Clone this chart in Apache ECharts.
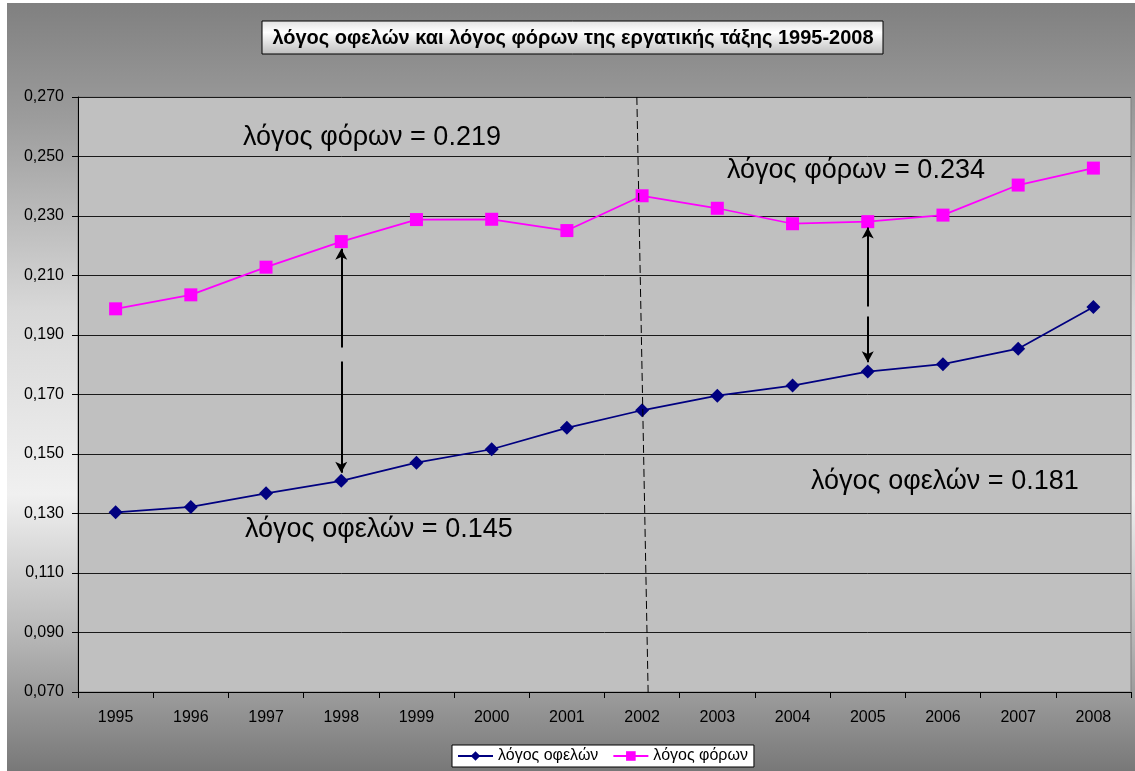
<!DOCTYPE html>
<html>
<head>
<meta charset="utf-8">
<script src="https://cdn.jsdelivr.net/npm/echarts@6/dist/echarts.min.js"></script>
<style>
html,body{margin:0;padding:0;background:#ffffff;width:1135px;height:771px;overflow:hidden;}
#chart{position:absolute;left:7px;top:3px;width:1128px;height:768px;}
</style>
</head>
<body>
<div id="chart"></div>
<script>
// ---- data ----
const years = ['1995','1996','1997','1998','1999','2000','2001','2002','2003','2004','2005','2006','2007','2008'];
const benefitRatio = [0.1304,0.1322,0.1368,0.1410,0.1471,0.1516,0.1588,0.1647,0.1696,0.1730,0.1777,0.1802,0.1854,0.1994];
const taxRatio = [0.1988,0.2035,0.2128,0.2214,0.2288,0.2289,0.2251,0.2368,0.2326,0.2274,0.2281,0.2303,0.2404,0.2461];
const seriesNames = ['λόγος οφελών','λόγος φόρων'];
const titleText = 'λόγος οφελών και λόγος φόρων της εργατικής τάξης 1995-2008';
const notes = ['λόγος φόρων = 0.219','λόγος φόρων = 0.234','λόγος οφελών = 0.181','λόγος οφελών = 0.145'];
const yMin = 0.07, yMax = 0.27, yStep = 0.02;

const FONT = "'Liberation Sans', Arial, sans-serif";
const chart = echarts.init(document.getElementById('chart'), null, {renderer:'canvas'});

function arrowPair(x, y1, y2, headAtEnd){
  return [
    {coord:[x,y1], symbol: headAtEnd ? 'none' : 'arrow'},
    {coord:[x,y2], symbol: headAtEnd ? 'arrow' : 'none'}
  ];
}

const option = {
  animation:false,
  backgroundColor:{type:'linear',x:0,y:0,x2:0,y2:1,colorStops:[
    {offset:0,color:'#808080'},
    {offset:0.15,color:'#9c9c9c'},
    {offset:0.4,color:'#d8d8d8'},
    {offset:0.64,color:'#f0f0f0'},
    {offset:0.82,color:'#b8b8b8'},
    {offset:1,color:'#787878'}
  ]},
  grid:{left:71,right:4,top:94,bottom:79,show:true,backgroundColor:'#c0c0c0',borderColor:'#808080',borderWidth:1,containLabel:false},
  legend:{
    left:445, top:742,
    backgroundColor:'#ffffff', borderColor:'#000000', borderWidth:1,
    padding:[3,6,3,5], itemGap:14, itemWidth:35, itemHeight:12,
    textStyle:{fontFamily:FONT,fontSize:16,color:'#000'},
    data:seriesNames
  },
  xAxis:[{
    type:'category', data:years, boundaryGap:true,
    axisLine:{lineStyle:{color:'#000',width:1}},
    axisTick:{show:true,length:6,interval:0,lineStyle:{color:'#000'}},
    axisLabel:{interval:0,margin:18,fontFamily:FONT,fontSize:16,color:'#000'},
    splitLine:{show:false}
  },{
    type:'value', min:-0.5, max:13.5, show:false
  }],
  yAxis:{
    type:'value', min:yMin, max:yMax, interval:yStep,
    axisLine:{show:true,onZero:false,lineStyle:{color:'#000',width:1}},
    axisTick:{show:true,length:6,lineStyle:{color:'#000'}},
    axisLabel:{margin:14,fontFamily:FONT,fontSize:16,color:'#000',
      formatter:v=>v.toFixed(3).replace('.',',')},
    splitLine:{show:true,lineStyle:{color:'#1a1a1a',width:1}}
  },
  series:[
    {
      name:seriesNames[0], type:'line', data:benefitRatio,
      symbol:'diamond', symbolSize:14,
      lineStyle:{color:'#000080',width:1.75},
      itemStyle:{color:'#000080'}, z:4
    },
    {
      name:seriesNames[1], type:'line', data:taxRatio,
      symbol:'rect', symbolSize:13,
      lineStyle:{color:'#ff00ff',width:1.75},
      itemStyle:{color:'#ff00ff'}, z:4
    },
    {
      name:'annot', type:'line', xAxisIndex:1, data:[], silent:true, z:3,
      markLine:{
        silent:true, animation:false,
        label:{show:false},
        lineStyle:{color:'#000',width:2,type:'solid'},
        symbolSize:[9,11],
        data:[
          [{coord:[6.93,0.27],symbol:'none',lineStyle:{type:[8,4],width:1,color:'#000'}},{coord:[7.08,0.07],symbol:'none'}],
          arrowPair(3,0.2190,0.1858,false),
          arrowPair(3,0.1811,0.1437,true),
          arrowPair(10,0.2261,0.1996,false),
          arrowPair(10,0.1962,0.1808,true)
        ]
      }
    }
  ],
  graphic:[
    {type:'rect', shape:{x:255,y:18,width:621,height:33}, z:10,
      style:{fill:{type:'linear',x:0,y:0,x2:0,y2:1,colorStops:[
        {offset:0,color:'#e0e0e0'},{offset:0.35,color:'#ffffff'},{offset:1,color:'#bdbdbd'}]},
        stroke:'#000',lineWidth:1}},
    {type:'text', z:11, style:{text:titleText,x:566,y:35,align:'center',verticalAlign:'middle',
      font:"bold 20px "+FONT,fill:'#000'}},
    {type:'text', z:11, style:{text:notes[0],x:236,y:135,verticalAlign:'middle',font:"27px "+FONT,fill:'#000'}},
    {type:'text', z:11, style:{text:notes[1],x:720,y:168,verticalAlign:'middle',font:"27px "+FONT,fill:'#000'}},
    {type:'text', z:11, style:{text:notes[2],x:804,y:479,verticalAlign:'middle',font:"27px "+FONT,fill:'#000'}},
    {type:'text', z:11, style:{text:notes[3],x:238,y:527,verticalAlign:'middle',font:"27px "+FONT,fill:'#000'}}
  ]
};
chart.setOption(option);
</script>
</body>
</html>
